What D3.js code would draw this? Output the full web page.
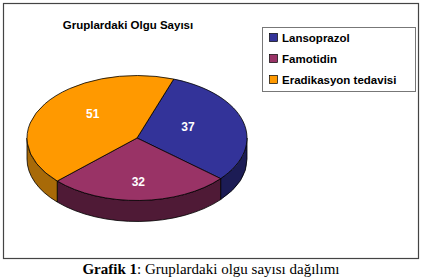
<!DOCTYPE html>
<html>
<head>
<meta charset="UTF-8">
<title>Gruplardaki Olgu Sayısı</title>
<script src="https://cdn.jsdelivr.net/npm/d3@7"></script>
<style>
body { margin:0; background:#fff; }
svg text { font-family: "Liberation Sans", Arial, sans-serif; }
</style>
</head>
<body>
<div id="pieChart"></div>
<script>
var categories = ['Lansoprazol', 'Famotidin', 'Eradikasyon tedavisi'];
var values = [37, 32, 51];
var topColors = ['#333399', '#993366', '#FF9900'];
var sideColors = ['#1c1c55', '#4f1a36', '#a86a08'];

var W = 422, H = 278;
var cx = 137, cy = 138, rx = 110, ry = 62.5, depth = 21;
var startDeg = 19.5;

var svg = d3.select('#pieChart').append('svg')
    .attr('width', W).attr('height', H);

// chart frame
svg.append('rect')
    .attr('x', 3.5).attr('y', 3.5)
    .attr('width', 415).attr('height', 255)
    .attr('fill', '#fff').attr('stroke', '#444').attr('stroke-width', 1.2);

svg.append('text')
    .attr('x', 128).attr('y', 29)
    .attr('text-anchor', 'middle')
    .attr('font-size', '11.5px').attr('font-weight', 'bold')
    .text('Gruplardaki Olgu Sayısı');

var rad = Math.PI / 180;
var pie = d3.pie()
    .sort(null)
    .startAngle(startDeg * rad)
    .endAngle((startDeg + 360) * rad);
var arcs = pie(values);

function pt(t, dy) {
    return [cx + rx * Math.sin(t), cy - ry * Math.cos(t) + (dy || 0)];
}

// side walls (front half only: 90..270 degrees)
var g = svg.append('g');
arcs.forEach(function(a, i) {
    [[90, 270], [450, 630]].forEach(function(r) {
        var s = Math.max(a.startAngle, r[0] * rad);
        var e = Math.min(a.endAngle, r[1] * rad);
        if (e <= s) return;
        var p0 = pt(s), p1 = pt(e), p2 = pt(e, depth), p3 = pt(s, depth);
        var d = 'M' + p0 + 'A' + rx + ',' + ry + ' 0 0 1 ' + p1 +
            'L' + p2 + 'A' + rx + ',' + ry + ' 0 0 0 ' + p3 + 'Z';
        g.append('path')
            .attr('d', d)
            .attr('fill', sideColors[i])
            .attr('stroke', '#000').attr('stroke-width', 0.8)
            .attr('stroke-linejoin', 'round');
    });
});

// top faces
arcs.forEach(function(a, i) {
    var p0 = pt(a.startAngle), p1 = pt(a.endAngle);
    var large = (a.endAngle - a.startAngle) > Math.PI ? 1 : 0;
    var d = 'M' + cx + ',' + cy + 'L' + p0 + 'A' + rx + ',' + ry + ' 0 ' + large + ' 1 ' + p1 + 'Z';
    g.append('path')
        .attr('d', d)
        .attr('fill', topColors[i])
        .attr('stroke', '#000').attr('stroke-width', 0.8)
        .attr('stroke-linejoin', 'round');
});

// value labels
arcs.forEach(function(a, i) {
    var m = (a.startAngle + a.endAngle) / 2;
    var p = [cx + rx * 0.48 * Math.sin(m), cy - ry * 0.7 * Math.cos(m)];
    g.append('text')
        .attr('x', p[0]).attr('y', p[1] + 4.3)
        .attr('text-anchor', 'middle')
        .attr('fill', '#fff')
        .attr('font-size', '12px').attr('font-weight', 'bold')
        .text(values[i]);
});

// legend
var legend = svg.append('g').attr('transform', 'translate(262,27)');
legend.append('rect')
    .attr('x', 0.5).attr('y', 0.5)
    .attr('width', 153).attr('height', 64)
    .attr('fill', '#fff').attr('stroke', '#777').attr('stroke-width', 1);
var item = legend.selectAll('g.item')
    .data(categories)
    .enter().append('g')
    .attr('class', 'item')
    .attr('transform', function(d, i) { return 'translate(7,' + (10 + i * 21) + ')'; });
item.append('rect')
    .attr('x', 0.5).attr('y', -3.5)
    .attr('width', 8).attr('height', 8)
    .attr('fill', function(d, i) { return topColors[i]; })
    .attr('stroke', '#000').attr('stroke-width', 0.7);
item.append('text')
    .attr('x', 13).attr('y', 4.5)
    .attr('font-size', '11.5px').attr('font-weight', 'bold')
    .text(function(d) { return d; });

// caption under the chart
var cap = svg.append('text')
    .attr('x', 211).attr('y', 274)
    .attr('text-anchor', 'middle')
    .style('font-family', '"Liberation Serif", "Times New Roman", serif')
    .attr('font-size', '15px');
cap.append('tspan').attr('font-weight', 'bold').text('Grafik 1');
cap.append('tspan').text(': Gruplardaki olgu sayısı dağılımı');
</script>
</body>
</html>
